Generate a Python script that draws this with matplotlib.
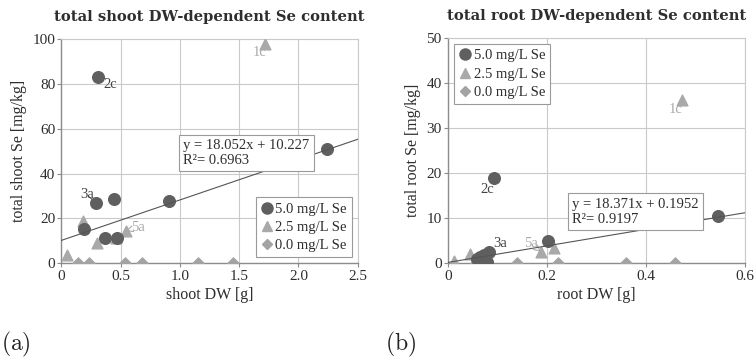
import matplotlib
matplotlib.use("Agg")
import matplotlib.pyplot as plt
from matplotlib.lines import Line2D

plt.rcParams["font.family"] = "Liberation Serif"
plt.rcParams["mathtext.fontset"] = "cm"

# (a) shoot dry weight [g] vs total shoot Se [mg/kg]
shoot_x_50 = [0.31, 2.24, 0.29, 0.44, 0.91, 0.19, 0.37, 0.47]
shoot_y_50 = [83.0, 50.8, 27.0, 28.8, 27.6, 15.2, 11.2, 11.3]
shoot_x_25 = [1.72, 0.18, 0.30, 0.045, 0.46, 0.545]
shoot_y_25 = [97.8, 19.0, 8.9, 3.7, 11.2, 14.4]
shoot_x_00 = [0.14, 0.23, 0.54, 0.68, 1.15, 1.45]
shoot_y_00 = [0, 0, 0, 0, 0, 0]
shoot_fit = (18.052, 10.227, 0.6963)

# (b) root dry weight [g] vs total root Se [mg/kg]
root_x_50 = [0.092, 0.545, 0.202, 0.083, 0.073, 0.064, 0.079, 0.058]
root_y_50 = [18.9, 10.5, 4.9, 2.5, 1.9, 1.5, 0.2, 1.0]
root_x_25 = [0.473, 0.214, 0.188, 0.012, 0.044, 0.052, 0.058]
root_y_25 = [36.3, 3.3, 2.6, 0.6, 2.0, 0.2, 0.3]
root_x_00 = [0.058, 0.066, 0.14, 0.222, 0.36, 0.46]
root_y_00 = [0, 0, 0, 0, 0, 0]
root_fit = (18.371, 0.1952, 0.9197)

labels = ["5.0 mg/L Se", "2.5 mg/L Se", "0.0 mg/L Se"]
dark = "#5f5f5f"
mid = "#a9a9a9"
light = "#a3a3a3"
grid_c = "#c9c9c9"
txt = "#2e2e2e"
fs = 10.5


def style_axes(ax, xticks, xlabels, yticks):
    ax.set_xticks(xticks)
    ax.set_xticklabels(xlabels)
    ax.set_yticks(yticks)
    ax.set_xlim(xticks[0], xticks[-1])
    ax.set_ylim(yticks[0], yticks[-1])
    ax.grid(True, color=grid_c, linewidth=0.8)
    ax.set_axisbelow(True)
    for side in ["top", "right"]:
        ax.spines[side].set_color(grid_c)
        ax.spines[side].set_linewidth(0.8)
    for side in ["left", "bottom"]:
        ax.spines[side].set_color("#8c8c8c")
        ax.spines[side].set_linewidth(1.0)
    ax.tick_params(length=3, width=0.8, color="#8c8c8c", labelsize=fs + 0.5,
                   labelcolor=txt, pad=1.5)


def scatter_sets(ax, sets):
    ax.scatter(sets[0][0], sets[0][1], marker="o", s=70, color=dark, zorder=4)
    ax.scatter(sets[1][0], sets[1][1], marker="^", s=60, color=mid, zorder=3)
    ax.scatter(sets[2][0], sets[2][1], marker="D", s=32, color=light, zorder=3)


def fit_line(ax, fit, xmax):
    m, b, r2 = fit
    ax.plot([0, xmax], [b, m * xmax + b], color="#555555", linewidth=0.8, zorder=5)
    return f"y = {m:.3f}x + {b:g}\nR\u00b2= {r2:.4f}"


def legend(ax, loc):
    handles = [
        Line2D([], [], marker="o", linestyle="", color=dark, markersize=8),
        Line2D([], [], marker="^", linestyle="", color=mid, markersize=7.5),
        Line2D([], [], marker="D", linestyle="", color=light, markersize=5.5),
    ]
    leg = ax.legend(handles, labels, loc=loc, fontsize=fs, handlelength=0.8,
                    handletextpad=0.2, borderpad=0.35, labelspacing=0.35,
                    borderaxespad=0.4, fancybox=False, framealpha=1)
    leg.get_frame().set_edgecolor("#9a9a9a")
    leg.get_frame().set_linewidth(0.8)
    for t in leg.get_texts():
        t.set_color(txt)


fig = plt.figure(figsize=(7.56, 3.59), dpi=100)
ax1 = fig.add_axes([0.0812, 0.2666, 0.392, 0.624])
ax2 = fig.add_axes([0.5926, 0.2666, 0.3925, 0.627])

title_kw = dict(fontsize=10.6, fontweight="bold", color=txt, pad=13,
                fontfamily="DejaVu Serif")
label_kw = dict(fontsize=11.5, color=txt)
arrow = dict(arrowstyle="-", color="#444444", linewidth=0.7)
arrow_g = dict(arrowstyle="->", color=mid, linewidth=0.8)

# panel (a)
scatter_sets(ax1, [(shoot_x_50, shoot_y_50), (shoot_x_25, shoot_y_25),
                   (shoot_x_00, shoot_y_00)])
eq1 = fit_line(ax1, shoot_fit, 2.5)
ax1.text(0.412, 0.555, eq1, transform=ax1.transAxes, fontsize=fs, va="top",
         color=txt, linespacing=1.2,
         bbox=dict(facecolor="white", edgecolor="#9a9a9a", linewidth=0.8,
                   boxstyle="square,pad=0.3"), zorder=6)
style_axes(ax1, [0, 0.5, 1.0, 1.5, 2.0, 2.5],
           ["0", "0.5", "1.0", "1.5", "2.0", "2.5"], [0, 20, 40, 60, 80, 100])
ax1.set_title("total shoot DW-dependent Se content", **title_kw)
ax1.set_xlabel("shoot DW [g]", labelpad=3, **label_kw)
ax1.set_ylabel("total shoot Se [mg/kg]", labelpad=4, **label_kw)
ax1.annotate("2c", (0.31, 83), xytext=(0.35, 80), fontsize=fs, color="#444444",
             va="center", arrowprops=arrow)
ax1.annotate("1c", (1.72, 97.8), xytext=(1.61, 94), fontsize=fs, color=mid,
             va="center", arrowprops=dict(arrowstyle="-", color=mid, linewidth=0.7))
ax1.annotate("3a", (0.29, 27.0), xytext=(0.16, 30.5), fontsize=fs, color="#444444",
             va="center", arrowprops=arrow)
ax1.annotate("5a", (0.545, 14.4), xytext=(0.59, 16.2), fontsize=fs, color=mid,
             va="center", arrowprops=arrow_g)
legend(ax1, "lower right")

# panel (b)
scatter_sets(ax2, [(root_x_50, root_y_50), (root_x_25, root_y_25),
                   (root_x_00, root_y_00)])
eq2 = fit_line(ax2, root_fit, 0.6)
ax2.text(0.418, 0.292, eq2, transform=ax2.transAxes, fontsize=fs, va="top",
         color=txt, linespacing=1.2,
         bbox=dict(facecolor="white", edgecolor="#9a9a9a", linewidth=0.8,
                   boxstyle="square,pad=0.3"), zorder=6)
style_axes(ax2, [0, 0.2, 0.4, 0.6], ["0", "0.2", "0.4", "0.6"],
           [0, 10, 20, 30, 40, 50])
ax2.set_title("total root DW-dependent Se content", **title_kw)
ax2.set_xlabel("root DW [g]", labelpad=3, **label_kw)
ax2.set_ylabel("total root Se [mg/kg]", labelpad=4, **label_kw)
ax2.annotate("2c", (0.092, 18.9), xytext=(0.066, 16.3), fontsize=fs,
             color="#444444", va="center", arrowprops=arrow)
ax2.annotate("1c", (0.473, 36.3), xytext=(0.447, 34.2), fontsize=fs, color=mid,
             va="center", arrowprops=dict(arrowstyle="-", color=mid, linewidth=0.7))
ax2.annotate("3a", (0.083, 2.5), xytext=(0.092, 4.5), fontsize=fs,
             color="#444444", va="center", arrowprops=arrow)
ax2.annotate("5a", (0.188, 2.6), xytext=(0.154, 4.3), fontsize=fs, color=mid,
             va="center", arrowprops=arrow_g)
legend(ax2, "upper left")

fig.text(0.001, 0.025, r"$\mathrm{(a)}$", fontsize=17, color="#222222")
fig.text(0.509, 0.025, r"$\mathrm{(b)}$", fontsize=17, color="#222222")

fig.savefig("out.png", dpi=100, facecolor="white")
